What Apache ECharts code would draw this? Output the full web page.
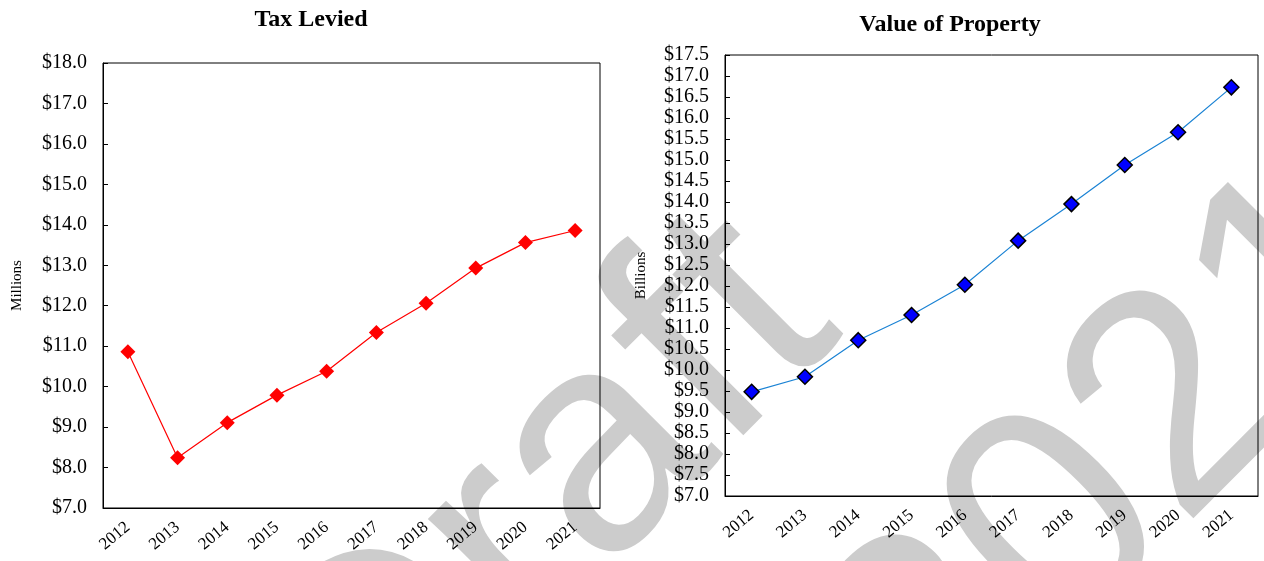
<!DOCTYPE html>
<html>
<head>
<meta charset="utf-8">
<title>Tax Levied / Value of Property</title>
<script src="https://cdn.jsdelivr.net/npm/echarts@6/dist/echarts.min.js"></script>
<style>
  html, body { margin: 0; padding: 0; background: #fff; }
  #chart { width: 1264px; height: 561px; }
</style>
</head>
<body>
<div id="chart"></div>
<script>
// data
const years = ["2012", "2013", "2014", "2015", "2016", "2017", "2018", "2019", "2020", "2021"];
const taxLevied = [10.86, 8.24, 9.11, 9.79, 10.38, 11.34, 12.06, 12.93, 13.56, 13.86]; // millions
const propertyValue = [9.48, 9.84, 10.71, 11.31, 12.03, 13.08, 13.95, 14.88, 15.66, 16.73]; // billions

const serif = "Liberation Serif";
const money = v => "$" + v.toFixed(1);

function xAxisFor(gridIndex) {
  return {
    type: "category",
    gridIndex: gridIndex,
    data: years,
    boundaryGap: true,
    axisLine: { lineStyle: { color: "#000", width: 1 } },
    axisTick: { inside: true, length: 5, lineStyle: { color: "#000" } },
    axisLabel: {
      interval: 0,
      rotate: 40,
      margin: 17,
      color: "#000",
      fontFamily: serif,
      fontSize: 17
    },
    splitLine: { show: false }
  };
}

function yAxisFor(gridIndex, min, max, step, name, gap) {
  return {
    type: "value",
    gridIndex: gridIndex,
    min: min,
    max: max,
    interval: step,
    name: name,
    nameLocation: "middle",
    nameGap: gap,
    nameTextStyle: { color: "#000", fontFamily: serif, fontSize: 15 },
    axisLine: { show: true, lineStyle: { color: "#000", width: 1 } },
    axisTick: { show: true, inside: true, length: 5, lineStyle: { color: "#000" } },
    axisLabel: {
      color: "#000",
      fontFamily: serif,
      fontSize: 20,
      margin: 16,
      formatter: money
    },
    splitLine: { show: false }
  };
}

// watermark text pieces, put on a lower canvas layer so the charts sit on top
function mark(text, x, y) {
  return {
    type: "text",
    x: x,
    y: y,
    zlevel: -1,
    silent: true,
    style: {
      text: text,
      font: '310px "Liberation Sans"',
      fill: "#cccccc",
      align: "left",
      verticalAlign: "middle"
    }
  };
}

const chart = echarts.init(document.getElementById("chart"), null, { renderer: "canvas" });

const option = {
  backgroundColor: "#fff",
  animation: false,
  title: [
    {
      text: "Tax Levied",
      left: 306,
      textAlign: "center",
      top: 3,
      textStyle: { fontFamily: serif, fontSize: 24, fontWeight: "bold", color: "#000" }
    },
    {
      text: "Value of Property",
      left: 945,
      textAlign: "center",
      top: 8,
      textStyle: { fontFamily: serif, fontSize: 24, fontWeight: "bold", color: "#000" }
    }
  ],
  graphic: [
    {
      type: "group",
      x: 591,
      y: 591,
      rotation: Math.PI / 4,
      silent: true,
      zlevel: -1,
      children: [
        mark("Draft", -309, -88),
        mark("2021", 117, 289)
      ]
    }
  ],
  grid: [
    { left: 103, right: 664, top: 63, bottom: 53, show: true, borderColor: "#000", borderWidth: 1, backgroundColor: "transparent" },
    { left: 725, right: 6, top: 55, bottom: 65, show: true, borderColor: "#000", borderWidth: 1, backgroundColor: "transparent" }
  ],
  xAxis: [xAxisFor(0), xAxisFor(1)],
  yAxis: [
    yAxisFor(0, 7, 18, 1, "Millions", 78),
    yAxisFor(1, 7, 17.5, 0.5, "Billions", 76)
  ],
  series: [
    {
      name: "Tax Levied",
      type: "line",
      xAxisIndex: 0,
      yAxisIndex: 0,
      data: taxLevied,
      symbol: "diamond",
      symbolSize: 15,
      lineStyle: { color: "#ff0000", width: 1.2 },
      itemStyle: { color: "#ff0000" }
    },
    {
      name: "Value of Property",
      type: "line",
      xAxisIndex: 1,
      yAxisIndex: 1,
      data: propertyValue,
      symbol: "diamond",
      symbolSize: 15,
      lineStyle: { color: "#1b83d4", width: 1.2 },
      itemStyle: { color: "#0000ff", borderColor: "#000", borderWidth: 1.5 }
    }
  ]
};

chart.setOption(option);
</script>
</body>
</html>
